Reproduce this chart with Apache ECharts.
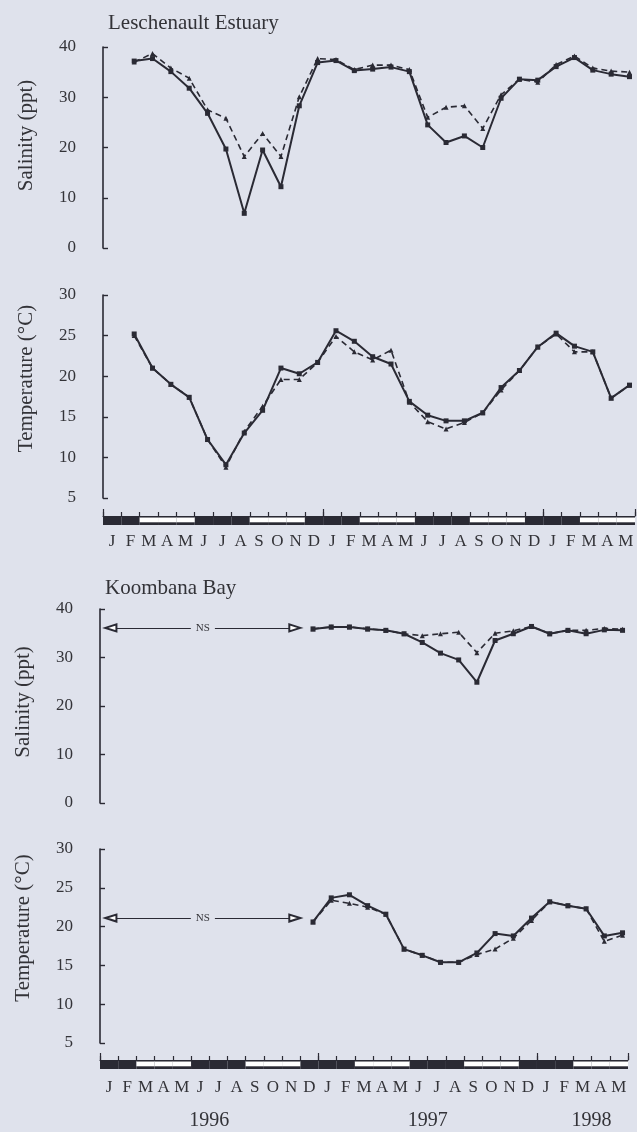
<!DOCTYPE html>
<html><head><meta charset="utf-8">
<script src="https://cdn.jsdelivr.net/npm/echarts@6/dist/echarts.min.js"></script>
<style>html,body{margin:0;padding:0;background:#dfe2ec;}#c{width:637px;height:1132px;}</style>
</head><body><div id="c"></div>
<script>
// ---- data ----
const months = ['J','F','M','A','M','J','J','A','S','O','N','D','J','F','M','A','M','J','J','A','S','O','N','D','J','F','M','A','M'];
// 1 = summer / winter (dark), 0 = autumn / spring (light)
const seasonShade = [1,1,0,0,0,1,1,1,0,0,0,1,1,1,0,0,0,1,1,1,0,0,0,1,1,1,0,0,0];
const yearTickIdx = [6, 18, 27];
const yearNames = ['1996', '1997', '1998'];

// Leschenault Estuary, monthly samples Feb 1996 .. May 1998 (start month index 1)
const lesStart = 1;
const lesSalSolid  = [37.2,37.7,35.1,31.8,26.8,19.7,6.9,19.5,12.2,28.3,36.9, 37.3,35.3,35.6,36.0,35.1,24.5,21.0,22.3,20.0,29.8,33.6,33.4, 36.1,37.9,35.4,34.6,34.1];
const lesSalDashed = [37.0,38.7,35.8,33.8,27.5,25.8,18.2,22.8,18.2,30.1,37.7, 37.5,35.5,36.4,36.4,35.5,26.0,28.0,28.3,23.8,30.5,33.6,33.0, 36.5,38.2,35.8,35.2,35.0];
const lesTempSolid  = [25.2,21.0,19.0,17.4,12.2,9.1,13.0,15.8,21.0,20.3,21.7, 25.6,24.3,22.4,21.5,16.9,15.2,14.5,14.5,15.5,18.6,20.7,23.6, 25.3,23.7,23.0,17.3,18.9];
const lesTempDashed = [25.0,21.0,19.0,17.4,12.2,8.8,13.2,16.3,19.6,19.6,21.7, 24.9,23.0,22.0,23.2,16.8,14.4,13.5,14.3,15.5,18.3,20.7,23.6, 25.2,23.0,23.0,17.3,18.9];

// Koombana Bay, monthly samples Dec 1996 .. May 1998 (start month index 11)
const kooStart = 11;
const kooSalSolid  = [35.9,36.3,36.3,35.9,35.6,34.9,33.1,30.9,29.5,24.9,33.5,34.9,36.4,34.9,35.6,34.9,35.7,35.6];
const kooSalDashed = [35.9,36.3,36.3,35.9,35.6,34.9,34.5,34.9,35.2,31.0,35.0,35.5,36.4,34.9,35.6,35.6,36.0,35.8];
const kooTempSolid  = [20.6,23.7,24.1,22.7,21.6,17.1,16.3,15.4,15.4,16.6,19.1,18.8,21.1,23.2,22.7,22.3,18.8,19.2];
const kooTempDashed = [20.6,23.4,23.0,22.5,21.6,17.1,16.3,15.4,15.4,16.4,17.1,18.5,20.8,23.2,22.7,22.3,18.1,18.9];

// "NS" (not sampled) period at Koombana Bay, month indices, and level of the marker
const nsFrom = 0.6, nsTo = 10.7;
const nsSalLevel = 36.1, nsTempLevel = 21.1;

// ---- style ----
const INK = '#2a2a34';
const TXT = '#333338';
const BG = '#dfe2ec';
const SERIF = 'Liberation Serif';
const SAMPLE_OFFSET = 0.7; // sample position within the month

function pts(start, arr) { return arr.map((v, i) => [start + i + SAMPLE_OFFSET, v]); }

const G = [
  {left: 103, top: 47,  width: 532, height: 201},
  {left: 103, top: 295, width: 532, height: 203},
  {left: 103, top: 516, width: 532, height: 9},
  {left: 100, top: 609, width: 528, height: 194},
  {left: 100, top: 849, width: 528, height: 194},
  {left: 100, top: 1060, width: 528, height: 9}
];

function hiddenX(g) { return {type: 'value', gridIndex: g, min: 0, max: 29, show: false}; }
function monthX(g, margin) {
  return {type: 'category', gridIndex: g, data: months, position: 'bottom',
    axisLine: {show: false}, axisTick: {show: false},
    axisLabel: {margin: margin, fontFamily: SERIF, fontSize: 17, color: TXT, interval: 0}};
}
function tickX(g, interval, len, line) {
  return {type: 'value', gridIndex: g, min: 0, max: 29, interval: interval, position: 'top',
    axisLine: {show: line, lineStyle: {color: INK, width: 1.2}},
    axisTick: {show: true, length: len, lineStyle: {color: INK, width: 1.2}},
    axisLabel: {show: false}, splitLine: {show: false}};
}
function valY(g, min, max, interval, name, pad) {
  return {type: 'value', gridIndex: g, min: min, max: max, interval: interval, offset: 19,
    axisLine: {show: true, lineStyle: {color: INK, width: 1.6}},
    axisTick: {show: true, inside: true, length: 5, lineStyle: {color: INK, width: 1.4}},
    axisLabel: {margin: 8, fontFamily: SERIF, fontSize: 17, color: TXT},
    splitLine: {show: false},
    name: name, nameLocation: 'middle', nameGap: 47,
    nameTextStyle: {fontFamily: SERIF, fontSize: 21, color: TXT, padding: [0, 0, 0, pad]}};
}
function hiddenY(g) { return {type: 'value', gridIndex: g, min: 0, max: 1, show: false}; }

function solid(xi, yi, data, extra) {
  return Object.assign({type: 'line', xAxisIndex: xi, yAxisIndex: yi, data: data, z: 3,
    symbol: 'rect', symbolSize: 5, showSymbol: true,
    lineStyle: {color: INK, width: 2}, itemStyle: {color: INK}}, extra || {});
}
function dashed(xi, yi, data) {
  return {type: 'line', xAxisIndex: xi, yAxisIndex: yi, data: data, z: 2,
    symbol: 'triangle', symbolSize: 5, showSymbol: true,
    lineStyle: {color: INK, width: 1.6, type: [6, 4]}, itemStyle: {color: INK}};
}
function nsLine(level) {
  return {markLine: {silent: true, animation: false,
    symbol: ['emptyTriangle', 'emptyTriangle'], symbolSize: [7, 11],
    lineStyle: {type: 'solid', color: INK, width: 1.2},
    label: {show: true, position: 'middle', formatter: 'NS', distance: 0, verticalAlign: 'middle',
      fontFamily: SERIF, fontSize: 11, color: TXT, backgroundColor: BG, padding: [1, 5]},
    data: [[{coord: [nsFrom, level]}, {coord: [nsTo, level]}]]}};
}
// season strip: dark band, with light seasons drawn as white inset boxes
function seasonBar(xi, yi, key) {
  const common = {type: 'bar', xAxisIndex: xi, yAxisIndex: yi, barWidth: '100%', barGap: '-100%', barCategoryGap: 0, silent: true};
  return [
    Object.assign({}, common, {data: seasonShade.map(() => 1), itemStyle: {color: INK}}),
    Object.assign({}, common, {stack: key, data: seasonShade.map(s => s ? 0 : 0.3), itemStyle: {color: 'rgba(0,0,0,0)'}}),
    Object.assign({}, common, {stack: key, data: seasonShade.map(s => s ? 0 : 0.53), itemStyle: {color: '#ffffff'}})
  ];
}

const xAxis = [
  hiddenX(0),                 // 0
  hiddenX(1),                 // 1
  monthX(2, 8),               // 2
  tickX(2, 1, 4, true),       // 3
  tickX(2, 12, 7, false),     // 4
  hiddenX(3),                 // 5
  hiddenX(4),                 // 6
  monthX(5, 10),              // 7
  tickX(5, 1, 4, true),       // 8
  tickX(5, 12, 7, false),     // 9
  {type: 'value', gridIndex: 5, min: 0, max: 29, interval: 3, position: 'bottom',
    axisLine: {show: false}, axisTick: {show: false}, splitLine: {show: false},
    axisLabel: {margin: 42, fontFamily: SERIF, fontSize: 20, color: TXT,
      formatter: v => { const k = yearTickIdx.indexOf(v); return k >= 0 ? yearNames[k] : ''; }}} // 10
];
const yAxis = [
  valY(0, 0, 40, 10, 'Salinity (ppt)', 24),
  valY(1, 5, 30, 5, 'Temperature (°C)', 36),
  hiddenY(2),
  valY(3, 0, 40, 10, 'Salinity (ppt)', 8),
  valY(4, 5, 30, 5, 'Temperature (°C)', 36),
  hiddenY(5)
];

const series = [
  dashed(0, 0, pts(lesStart, lesSalDashed)),
  solid(0, 0, pts(lesStart, lesSalSolid)),
  dashed(1, 1, pts(lesStart, lesTempDashed)),
  solid(1, 1, pts(lesStart, lesTempSolid))
].concat(seasonBar(2, 2, 'top'), [
  dashed(5, 3, pts(kooStart, kooSalDashed)),
  solid(5, 3, pts(kooStart, kooSalSolid), nsLine(nsSalLevel)),
  dashed(6, 4, pts(kooStart, kooTempDashed)),
  solid(6, 4, pts(kooStart, kooTempSolid), nsLine(nsTempLevel))
], seasonBar(7, 5, 'bottom'));

const chart = echarts.init(document.getElementById('c'), null, {renderer: 'canvas'});
chart.setOption({
  backgroundColor: BG,
  animation: false,
  title: [
    {text: 'Leschenault Estuary', left: 108, top: 13, padding: 0,
      textStyle: {fontFamily: SERIF, fontSize: 21, fontWeight: 'normal', color: TXT}},
    {text: 'Koombana Bay', left: 105, top: 578, padding: 0,
      textStyle: {fontFamily: SERIF, fontSize: 21, fontWeight: 'normal', color: TXT}}
  ],
  grid: G,
  xAxis: xAxis,
  yAxis: yAxis,
  series: series
});
</script></body></html>
